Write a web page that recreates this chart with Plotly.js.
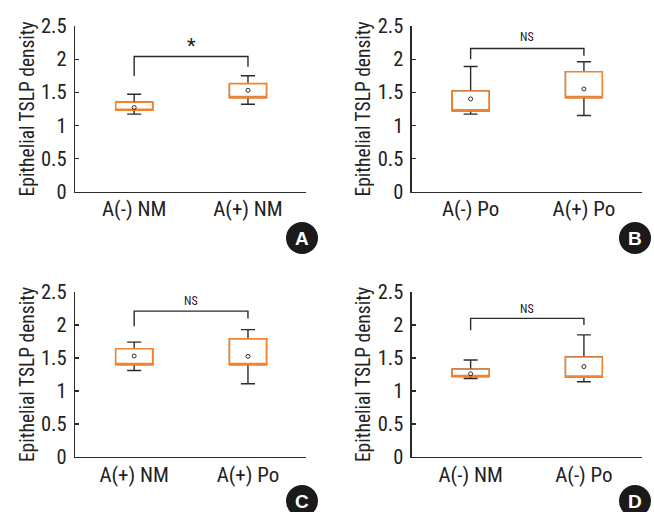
<!DOCTYPE html>
<html>
<head>
<meta charset="utf-8">
<script src="https://cdn.plot.ly/plotly-3.0.1.min.js"></script>
<style>html,body{margin:0;padding:0;background:#fff;}#chart{width:654px;height:512px;}</style>
</head>
<body>
<div id="chart"></div>
<script>
// ---- Data ----
const catsA = ['A(-) NM', 'A(+) NM'];
const catsB = ['A(-) Po', 'A(+) Po'];
const catsC = ['A(+) NM', 'A(+) Po'];
const catsD = ['A(-) NM', 'A(-) Po'];

const lowerA = [1.17, 1.32], q1A = [1.23, 1.42], q3A = [1.35, 1.63], upperA = [1.47, 1.75], meanA = [1.27, 1.53];
const lowerB = [1.17, 1.15], q1B = [1.22, 1.42], q3B = [1.52, 1.81], upperB = [1.89, 1.96], meanB = [1.40, 1.55];
const lowerC = [1.31, 1.11], q1C = [1.40, 1.40], q3C = [1.64, 1.79], upperC = [1.74, 1.93], meanC = [1.53, 1.525];
const lowerD = [1.19, 1.14], q1D = [1.22, 1.21], q3D = [1.33, 1.515], upperD = [1.47, 1.85], meanD = [1.26, 1.37];

const bracketTop = [2.04, 2.16, 2.21, 2.10];
const bracketLegs = [[1.745, 1.885], [2.0, 2.05], [1.98, 2.10], [1.92, 2.0]];
const sigLabels = ['*', 'NS', 'NS', 'NS'];
const sigY = [2.2, 2.34, 2.36, 2.25];
const panelLetters = ['A', 'B', 'C', 'D'];

const yTickVals = [0, 0.5, 1, 1.5, 2, 2.5];
const yTickText = ['0', '0.5', '1', '1.5', '2', '2.5'];
const yTitle = 'Epithelial TSLP density';

// ---- Build ----
const W = 654, H = 512;
const FONT = "'Liberation Sans Narrow', 'Arial Narrow', 'Roboto Condensed', 'DejaVu Sans Condensed', sans-serif";
const ORANGE = '#f3822f';
const DARK = '#2b2b2b';

const panels = [
  {cats: catsA, lo: lowerA, q1: q1A, q3: q3A, hi: upperA, mean: meanA, xd: [75, 306], yd: [191.7, 26]},
  {cats: catsB, lo: lowerB, q1: q1B, q3: q3B, hi: upperB, mean: meanB, xd: [411.7, 641.7], yd: [191.7, 26]},
  {cats: catsC, lo: lowerC, q1: q1C, q3: q3C, hi: upperC, mean: meanC, xd: [75, 306], yd: [457, 292]},
  {cats: catsD, lo: lowerD, q1: q1D, q3: q3D, hi: upperD, mean: meanD, xd: [411.7, 641.7], yd: [457, 292]}
];
const badgeCenters = [[302, 238], [635, 238], [302, 501], [635, 501]];

const traces = [];
const layout = {
  width: W, height: H,
  margin: {l: 0, r: 0, t: 0, b: 0},
  paper_bgcolor: '#fff', plot_bgcolor: '#fff',
  showlegend: false,
  boxmode: 'overlay',
  font: {family: FONT, color: '#222'},
  shapes: [], annotations: []
};

panels.forEach((p, i) => {
  const n = i === 0 ? '' : String(i + 1);
  const xa = 'x' + n, ya = 'y' + n;
  traces.push({
    type: 'box', xaxis: xa, yaxis: ya, x: p.cats,
    q1: p.q1, median: p.q1, q3: p.q3, lowerfence: p.lo, upperfence: p.hi,
    width: 0.325, whiskerwidth: 0.38,
    line: {color: DARK, width: 1.4}, fillcolor: 'rgba(0,0,0,0)',
    boxpoints: false, hoverinfo: 'skip'
  });
  traces.push({
    type: 'box', xaxis: xa, yaxis: ya, x: p.cats,
    q1: p.q1, median: p.q1, q3: p.q3, lowerfence: p.q1, upperfence: p.q3,
    width: 0.325, whiskerwidth: 0,
    line: {color: ORANGE, width: 1.6}, fillcolor: '#ffffff',
    boxpoints: false, hoverinfo: 'skip'
  });
  traces.push({
    type: 'scatter', mode: 'markers', xaxis: xa, yaxis: ya, x: p.cats, y: p.mean,
    marker: {symbol: 'circle-open', size: 4, color: DARK, line: {width: 1, color: DARK}},
    hoverinfo: 'skip', cliponaxis: false
  });
  traces.push({
    type: 'scatter', mode: 'lines', xaxis: xa, yaxis: ya,
    x: [p.cats[0], p.cats[0], p.cats[1], p.cats[1]],
    y: [bracketLegs[i][0], bracketTop[i], bracketTop[i], bracketLegs[i][1]],
    line: {color: DARK, width: 1.4}, hoverinfo: 'skip', cliponaxis: false
  });

  layout['xaxis' + n] = {
    domain: [p.xd[0] / W, p.xd[1] / W], anchor: ya,
    type: 'category', categoryarray: p.cats, categoryorder: 'array',
    range: [-0.52, 1.51], fixedrange: true,
    showline: true, linecolor: DARK, linewidth: 1.3,
    ticks: '', showgrid: false, zeroline: false,
    ticklabelstandoff: -2,
    tickfont: {family: FONT, size: 21, color: '#222'}
  };
  layout['yaxis' + n] = {
    domain: [1 - p.yd[0] / H, 1 - p.yd[1] / H], anchor: xa,
    range: [0, 2.5], fixedrange: true,
    tickvals: yTickVals, ticktext: yTickText,
    ticks: 'inside', ticklen: 4, tickwidth: 1.2, tickcolor: DARK,
    ticklabelstandoff: 3,
    showline: true, linecolor: DARK, linewidth: 1.3,
    showgrid: false, zeroline: false,
    tickfont: {family: FONT, size: 20.5, color: '#222'},
    title: {text: yTitle, font: {family: FONT, size: 19.5, color: '#222'}, standoff: 1}
  };

  layout.annotations.push({
    xref: xa, yref: ya, x: 0.5, y: sigY[i], text: sigLabels[i], showarrow: false,
    font: {family: FONT, size: sigLabels[i] === '*' ? 20 : 12, color: '#222'}
  });

  const c = badgeCenters[i], r = 16;
  layout.shapes.push({
    type: 'circle', xref: 'paper', yref: 'paper',
    x0: (c[0] - r) / W, x1: (c[0] + r) / W, y0: 1 - (c[1] + r) / H, y1: 1 - (c[1] - r) / H,
    fillcolor: '#1a1a1a', line: {width: 0}
  });
  layout.annotations.push({
    xref: 'paper', yref: 'paper', x: c[0] / W, y: 1 - c[1] / H, text: '<b>' + panelLetters[i] + '</b>',
    showarrow: false, xanchor: 'center', yanchor: 'middle',
    font: {family: "'Liberation Sans', Arial, sans-serif", size: 19, color: '#fff'}
  });
});

Plotly.newPlot('chart', traces, layout, {staticPlot: true, displayModeBar: false});
</script>
</body>
</html>
